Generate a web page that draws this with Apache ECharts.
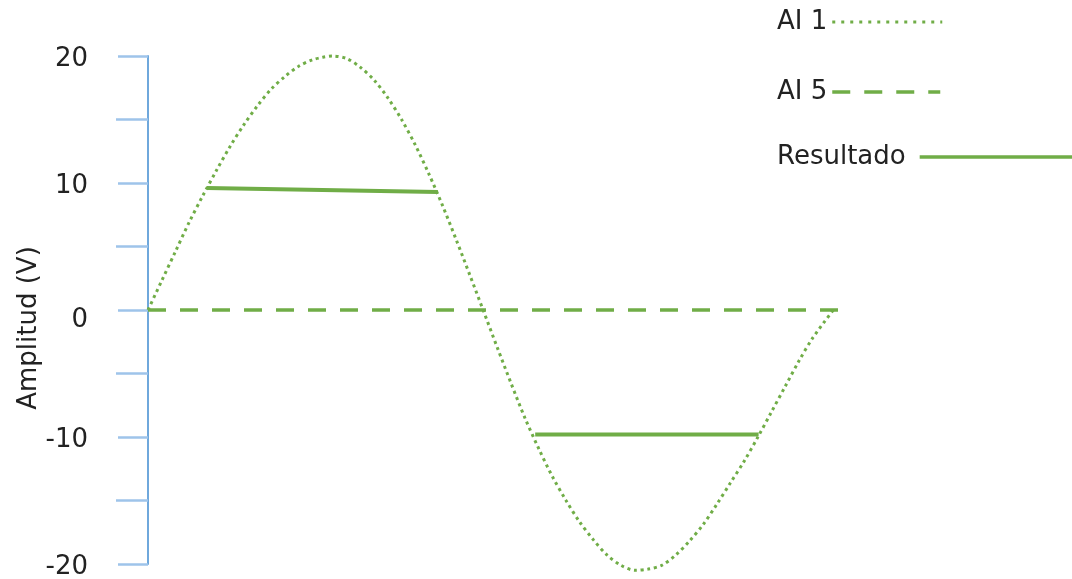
<!DOCTYPE html>
<html>
<head>
<meta charset="utf-8">
<title>AI 1 / AI 5 / Resultado</title>
<script src="https://cdn.jsdelivr.net/npm/echarts@6/dist/echarts.min.js"></script>
<style>
  html, body { margin: 0; padding: 0; background: #fff; }
  #chart { width: 1072px; height: 579px; }
</style>
</head>
<body>
<div id="chart"></div>
<script>
// valores (x en unidades relativas, y en V)
const ai1Points = [
  [0, 0], [2, 2.3], [4, 4.6], [6, 6.9], [8, 9.0], [10, 11.0], [12, 12.9],
  [14, 14.6], [16, 16.1], [18, 17.4], [20, 18.4], [22, 19.2], [24, 19.7],
  [25.5, 19.9], [26.9, 20.0], [29, 19.8], [31, 19.1], [33, 18.1], [35, 16.7],
  [37, 15.0], [39, 13.0], [41, 10.7], [43, 8.2], [45, 5.5], [47, 2.7],
  [48.9, 0], [51, -3.0], [53, -5.8], [55, -8.5], [57, -10.9], [59, -13.1],
  [61, -15.0], [63, -16.7], [65, -18.1], [67, -19.3], [69, -20.1], [71.1, -20.5],
  [73, -20.4], [75, -20.1], [77, -19.3], [79, -18.2], [81, -16.9], [83, -15.3],
  [85, -13.6], [87, -11.9], [89, -10.0], [91, -8.0], [93, -6.0], [95, -4.0],
  [97, -2.2], [100, 0]
]
const ai5Points = [[0, 0], [101, 0]]
const resultadoPoints = [[8.6, 9.6], [42.3, 9.3], null, [56.5, -9.8], [89.1, -9.8]]
const seriesNames = ['AI 1', 'AI 5', 'Resultado']
const yAxisName = 'Amplitud (V)'

const green = '#70AD47'
const textColor = '#222'

const chart = echarts.init(document.getElementById('chart'))

const legendBase = {
  orient: 'vertical',
  left: 777,
  padding: 0,
  align: 'right',
  itemHeight: 14,
  itemStyle: { opacity: 0, borderWidth: 0 },
  textStyle: { fontSize: 26, color: textColor, fontFamily: 'DejaVu Sans' }
}

chart.setOption({
  animation: false,
  textStyle: { fontFamily: 'DejaVu Sans' },
  legend: [
    {
      ...legendBase, data: [seriesNames[0]], top: 9, itemWidth: 110,
      lineStyle: { width: 3, type: [3, 6], cap: 'butt' }
    },
    {
      ...legendBase, data: [seriesNames[1]], top: 79, itemWidth: 108,
      lineStyle: { width: 3.6, type: [18, 14] }
    },
    {
      ...legendBase, data: [seriesNames[2]], top: 144, itemWidth: 160,
      lineStyle: { width: 3.6 },
      textStyle: { ...legendBase.textStyle, padding: [0, 9, 0, 0] }
    }
  ],
  grid: { left: 148, right: 225, top: 56, bottom: 15, outerBoundsMode: 'none' },
  xAxis: {
    type: 'value',
    min: 0,
    max: 102,
    show: false
  },
  yAxis: {
    type: 'value',
    min: -20,
    max: 20,
    interval: 10,
    name: yAxisName,
    nameLocation: 'middle',
    nameGap: 106,
    nameMoveOverlap: false,
    nameTextStyle: { fontSize: 26, color: textColor, padding: [0, 36, 0, 0] },
    axisLine: { show: true, onZero: false, lineStyle: { color: '#6FA8DC', width: 2 } },
    axisTick: { show: true, length: 30, lineStyle: { color: '#9EC4EA', width: 2.5 } },
    minorTick: { show: true, splitNumber: 2, length: 32, lineStyle: { color: '#9EC4EA', width: 2.5 } },
    splitLine: { show: false },
    axisLabel: {
      margin: 60,
      formatter: v => (v === 0 ? '{z|0}' : '{v|' + v + '}'),
      rich: {
        v: { fontSize: 26, color: textColor, padding: [6, 0, 0, 0] },
        z: { fontSize: 26, color: textColor, padding: [20, 0, 0, 0] }
      }
    }
  },
  series: [
    {
      name: seriesNames[0],
      type: 'line',
      data: ai1Points,
      smooth: 0.3,
      symbol: 'none',
      clip: false,
      lineStyle: { color: green, width: 3, type: [3, 3.7], cap: 'butt' },
      itemStyle: { color: green },
      z: 3
    },
    {
      name: seriesNames[1],
      type: 'line',
      data: ai5Points,
      symbol: 'none',
      lineStyle: { color: green, width: 3.6, type: [18, 14] },
      itemStyle: { color: green },
      z: 2
    },
    {
      name: seriesNames[2],
      type: 'line',
      data: resultadoPoints,
      symbol: 'none',
      connectNulls: false,
      lineStyle: { color: green, width: 4 },
      itemStyle: { color: green },
      z: 4
    }
  ]
})
</script>
</body>
</html>
